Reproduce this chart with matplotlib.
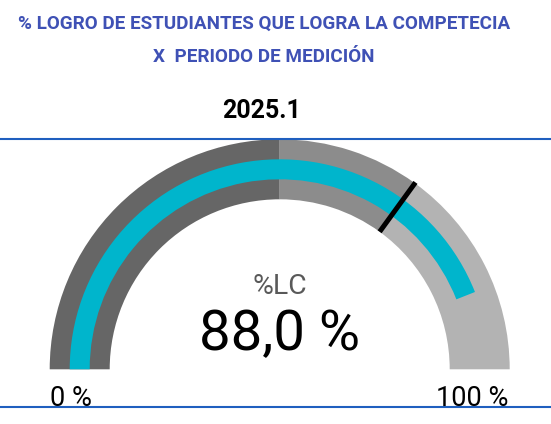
import numpy as np
import matplotlib
matplotlib.use("Agg")
import matplotlib.pyplot as plt
from matplotlib.patches import Wedge

# Gauge data
title_lines = ["% LOGRO DE ESTUDIANTES QUE LOGRA LA COMPETECIA", "X  PERIODO DE MEDICIÓN"]
period = "2025.1"
metric_name = "%LC"
band_edges = [0, 50, 70, 100]
band_colors = ["#666666", "#8c8c8c", "#b3b3b3"]
value = 88.0
target = 70.0
range_labels = ["0 %", "100 %"]

W, H = 551, 424


def to_angle(v):
    # 0 -> 180 deg (left), 100 -> 0 deg (right)
    return 180.0 * (1 - v / 100.0)


def y(py):
    # image pixel row -> data y
    return H - py


plt.rcParams['font.family'] = ['Roboto', 'DejaVu Sans']

fig = plt.figure(figsize=(W / 100, H / 100), dpi=100)
ax = fig.add_axes([0, 0, 1, 1])
ax.set_xlim(0, W)
ax.set_ylim(0, H)
ax.axis('off')

cx, cy = 279.7, y(369.3)
r_out, r_in = 230, 170
r_val_out, r_val_w = 210, 20

# background bands
for lo, hi, col in zip(band_edges[:-1], band_edges[1:], band_colors):
    ax.add_patch(Wedge((cx, cy), r_out, to_angle(hi), to_angle(lo),
                       width=r_out - r_in, facecolor=col, edgecolor='none'))

# value bar
ax.add_patch(Wedge((cx, cy), r_val_out, to_angle(value), to_angle(0),
                   width=r_val_w, facecolor="#00b5cc", edgecolor='none'))

# target marker
a = np.radians(to_angle(target))
ax.plot([cx + 170 * np.cos(a), cx + 231 * np.cos(a)],
        [cy + 170 * np.sin(a), cy + 231 * np.sin(a)],
        color='black', lw=3.6, solid_capstyle='butt')

# texts
ax.text(264, y(23.5), title_lines[0], ha='center', va='center',
        fontsize=13.6, fontweight='bold', color="#3f51b5")
ax.text(264, y(56.5), title_lines[1], ha='center', va='center',
        fontsize=13.6, fontweight='bold', color="#3f51b5")
ax.text(262, y(111), period, ha='center', va='center',
        fontsize=18, fontweight='bold', color='black')

ax.text(cx, y(294.3), metric_name, ha='center', va='baseline',
        fontsize=20.4, color="#595959")
ax.text(cx, y(350), f"{value:.1f} %".replace('.', ','), ha='center', va='baseline',
        fontsize=40.5, color='black')

ax.text(50, y(406), range_labels[0], ha='left', va='baseline',
        fontsize=19.5, color='black')
ax.text(508, y(406), range_labels[1], ha='right', va='baseline',
        fontsize=19.5, color='black')

# blue separator lines
for py in (139, 406.5):
    ax.plot([0, W], [y(py), y(py)], color="#1f5fbf", lw=1.5)

fig.savefig("out.png", dpi=100)
